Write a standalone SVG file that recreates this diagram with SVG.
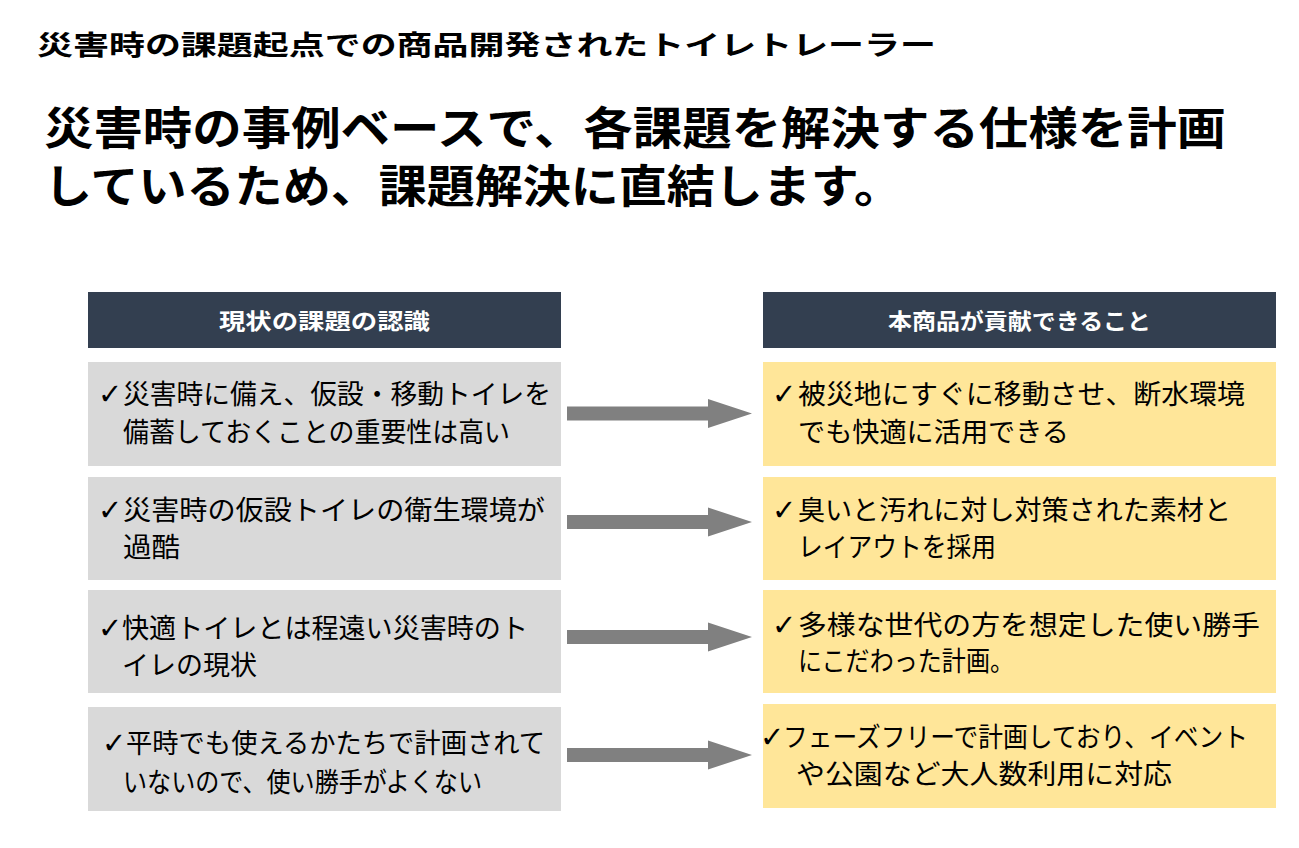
<svg xmlns="http://www.w3.org/2000/svg" width="1299" height="848" viewBox="0 0 1299 848">
<style>
.jp{font-family:"Noto Sans CJK JP","Noto Sans",sans-serif;}
.title{font-size:27px;font-weight:700;fill:#000;}
.head{font-size:45px;font-weight:700;fill:#000;}
.hdr{fill:#333f50;}
.hdrt{font-size:22px;font-weight:700;fill:#fff;}
.gray{fill:#d9d9d9;}
.yel{fill:#ffe699;}
.body{font-size:27px;font-weight:400;fill:#000;}
.chk{font-family:"DejaVu Sans",sans-serif;font-size:29px;font-weight:700;fill:#000;}
.arr{fill:#808080;}
</style>
<rect width="1299" height="848" fill="#fff"/>
<g id="title">
<text class="jp title" x="37" y="55" textLength="899" lengthAdjust="spacingAndGlyphs">災害時の課題起点での商品開発されたトイレトレーラー</text>
</g>
<g id="heading">
<text class="jp head" x="44" y="145" textLength="1182" lengthAdjust="spacingAndGlyphs">災害時の事例ベースで、各課題を解決する仕様を計画</text>
<text class="jp head" x="44" y="203" textLength="858" lengthAdjust="spacingAndGlyphs">しているため、課題解決に直結します。</text>
</g>
<g id="header-left">
<rect class="hdr" x="88" y="292" width="473" height="56"/>
<text class="jp hdrt" x="219" y="329" textLength="211" lengthAdjust="spacingAndGlyphs">現状の課題の認識</text>
</g>
<g id="header-right">
<rect class="hdr" x="763" y="292" width="513" height="56"/>
<text class="jp hdrt" x="888" y="329" textLength="263" lengthAdjust="spacingAndGlyphs">本商品が貢献できること</text>
</g>
<g id="issue-1">
<rect class="gray" x="88" y="362" width="473" height="104"/>
<text class="chk" x="98" y="404">✓</text>
<text class="jp body" x="123" y="404" textLength="428" lengthAdjust="spacingAndGlyphs">災害時に備え、仮設・移動トイレを</text>
<text class="jp body" x="123" y="442" textLength="387" lengthAdjust="spacingAndGlyphs">備蓄しておくことの重要性は高い</text>
</g>
<g id="issue-2">
<rect class="gray" x="88" y="477" width="473" height="103"/>
<text class="chk" x="98" y="520">✓</text>
<text class="jp body" x="123" y="520" textLength="422" lengthAdjust="spacingAndGlyphs">災害時の仮設トイレの衛生環境が</text>
<text class="jp body" x="123" y="557" textLength="57" lengthAdjust="spacingAndGlyphs">過酷</text>
</g>
<g id="issue-3">
<rect class="gray" x="88" y="590" width="473" height="103"/>
<text class="chk" x="98" y="638">✓</text>
<text class="jp body" x="122" y="638" textLength="406" lengthAdjust="spacingAndGlyphs">快適トイレとは程遠い災害時のト</text>
<text class="jp body" x="122" y="675" textLength="135" lengthAdjust="spacingAndGlyphs">イレの現状</text>
</g>
<g id="issue-4">
<rect class="gray" x="88" y="707" width="473" height="104"/>
<text class="chk" x="102" y="753">✓</text>
<text class="jp body" x="126" y="753" textLength="419" lengthAdjust="spacingAndGlyphs">平時でも使えるかたちで計画されて</text>
<text class="jp body" x="123" y="792" textLength="359" lengthAdjust="spacingAndGlyphs">いないので、使い勝手がよくない</text>
</g>
<g id="benefit-1">
<rect class="yel" x="763" y="362" width="513" height="104"/>
<text class="chk" x="772" y="404">✓</text>
<text class="jp body" x="798" y="404" textLength="447" lengthAdjust="spacingAndGlyphs">被災地にすぐに移動させ、断水環境</text>
<text class="jp body" x="798" y="442" textLength="271" lengthAdjust="spacingAndGlyphs">でも快適に活用できる</text>
</g>
<g id="benefit-2">
<rect class="yel" x="763" y="477" width="513" height="103"/>
<text class="chk" x="772" y="520">✓</text>
<text class="jp body" x="798" y="520" textLength="433" lengthAdjust="spacingAndGlyphs">臭いと汚れに対し対策された素材と</text>
<text class="jp body" x="798" y="557" textLength="198" lengthAdjust="spacingAndGlyphs">レイアウトを採用</text>
</g>
<g id="benefit-3">
<rect class="yel" x="763" y="590" width="513" height="103"/>
<text class="chk" x="772" y="635">✓</text>
<text class="jp body" x="798" y="635" textLength="462" lengthAdjust="spacingAndGlyphs">多様な世代の方を想定した使い勝手</text>
<text class="jp body" x="798" y="671" textLength="216" lengthAdjust="spacingAndGlyphs">にこだわった計画。</text>
</g>
<g id="benefit-4">
<rect class="yel" x="763" y="704" width="513" height="104"/>
<text class="chk" x="760" y="747">✓</text>
<text class="jp body" x="783" y="747" textLength="465" lengthAdjust="spacingAndGlyphs">フェーズフリーで計画しており、イベント</text>
<text class="jp body" x="796" y="784" textLength="376" lengthAdjust="spacingAndGlyphs">や公園など大人数利用に対応</text>
</g>
<g id="connectors">
<polygon class="arr" points="567,406.5 708,406.5 708,399 752,413.5 708,428 708,420.5 567,420.5"/>
<polygon class="arr" points="567,515 708,515 708,507.5 752,522 708,536.5 708,529 567,529"/>
<polygon class="arr" points="567,630 708,630 708,622.5 752,637 708,651.5 708,644 567,644"/>
<polygon class="arr" points="567,748 708,748 708,740.5 752,755 708,769.5 708,762 567,762"/>
</g>
</svg>
